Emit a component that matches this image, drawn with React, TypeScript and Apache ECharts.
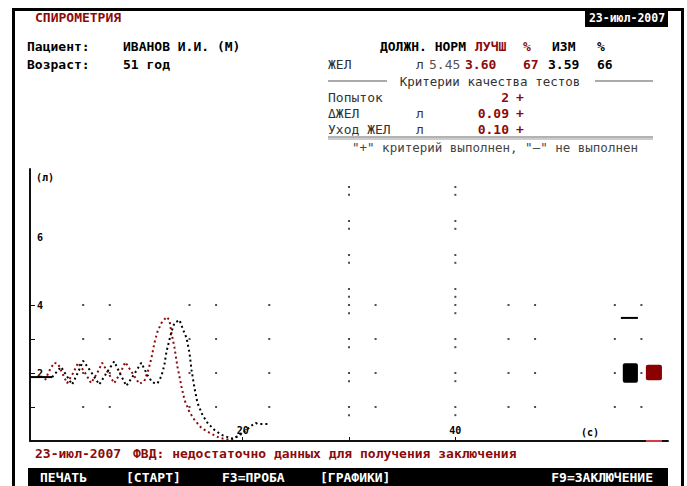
import { useEffect, useRef } from "react";
import * as echarts from "echarts";

// ---- data (seconds, litres) ----
const blackStart: [number, number][] = [[0, 1.88], [2.1, 1.88]];
const blackCurve: [number, number][] = [
  [2.08, 1.88], [2.55, 2.05], [2.92, 2.18], [3.4, 1.94], [3.96, 1.66], [4.53, 2.03], [5.0, 2.36],
  [5.75, 2.03], [6.51, 1.66], [7.26, 2.03], [7.92, 2.34], [8.49, 1.97], [9.06, 1.62], [9.81, 1.97],
  [10.47, 2.3], [11.04, 1.94], [11.51, 1.72], [11.98, 1.69], [12.36, 1.91], [12.64, 2.24],
  [12.83, 2.62], [13.11, 2.97], [13.3, 3.21], [13.58, 3.47], [14.06, 3.56], [14.34, 3.32],
  [14.72, 3.03], [15.0, 2.59], [15.19, 2.09], [15.47, 1.56], [15.75, 1.12], [16.23, 0.76],
  [16.7, 0.53], [17.36, 0.32], [18.02, 0.18], [18.77, 0.09], [19.15, 0.06], [19.53, 0.15],
  [20.0, 0.26], [20.38, 0.32], [20.75, 0.44], [21.23, 0.53], [21.42, 0.5], [22.36, 0.5],
];
const redCurve: [number, number][] = [
  [1.42, 1.79], [1.79, 2.05], [2.26, 2.3], [2.64, 2.27], [3.02, 2.0], [3.49, 1.7], [4.06, 2.0],
  [4.53, 2.3], [5.19, 2.0], [5.75, 1.7], [6.32, 2.0], [6.79, 2.3], [7.36, 2.0], [7.92, 1.7],
  [8.49, 2.0], [8.96, 2.32], [9.62, 2.0], [10.28, 1.68], [10.75, 1.76], [11.13, 2.09],
  [11.42, 2.44], [11.7, 2.88], [11.98, 3.21], [12.36, 3.47], [12.83, 3.65], [13.11, 3.56],
  [13.3, 3.18], [13.58, 2.76], [13.87, 2.18], [14.25, 1.59], [14.53, 1.21], [15.0, 0.85],
  [15.47, 0.62], [16.13, 0.38], [16.89, 0.24], [17.83, 0.09], [18.77, 0.03], [19.43, 0.12],
  [19.91, 0.21],
];
const yTickValues = [1, 2, 3, 4];
const yLabelValues = [2, 4, 6];
const xTickValues = [20, 30, 40];
const xLabelValues = [20, 40];
const dotColumns = [5, 7.5, 15, 17.5, 22.5, 30, 32.5, 40, 45, 47.5, 55, 57.5];
const dotRows = [1, 2, 3, 4];
const vDotColumns = [30, 40];
const vDotLevels = [7.47, 7.24, 6.47, 6.24, 5.47, 5.24, 4.47, 4.24, 3.76, 2.76, 1.76, 0.76];
// [x0, x1, yLow, yHigh]
const blackBox = [55.75, 57.17, 1.71, 2.29];
const redBox = [57.92, 59.43, 1.79, 2.24];
const blackMark: [number, number][] = [[55.57, 3.62], [57.17, 3.62]];
const redMark: [number, number][] = [[57.92, 0], [59.43, 0]];

const RED = "#8c0a0a";
const MONO = '"DejaVu Sans Mono", "Liberation Mono", monospace';

const gridDots: [number, number][] = [];
dotRows.forEach((r) => dotColumns.forEach((c) => gridDots.push([c, r])));
vDotColumns.forEach((c) => vDotLevels.forEach((l) => gridDots.push([c, l])));

function txt(text: string, x: number, y: number, o: any = {}) {
  return {
    type: "text",
    x,
    y,
    z: 10,
    silent: true,
    style: {
      text,
      fill: o.fill || "#000",
      font: `${o.weight || "bold"} ${o.size || 13}px ${MONO}`,
      align: o.align || "left",
      verticalAlign: "middle",
    },
  };
}
function hline(x1: number, x2: number, y: number, stroke = "#555", w = 1) {
  return { type: "line", z: 10, silent: true, shape: { x1, y1: y, x2, y2: y }, style: { stroke, lineWidth: w } };
}
function box(x: number, y: number, width: number, height: number, fill = "#000") {
  return { type: "rect", z: 9, silent: true, shape: { x, y, width, height }, style: { fill } };
}

function rectSeries(d: number[], color: string) {
  return {
    type: "custom",
    silent: true,
    z: 5,
    renderItem: (_p: any, api: any) => {
      const a = api.coord([api.value(0), api.value(3)]);
      const b = api.coord([api.value(1), api.value(2)]);
      return {
        type: "rect",
        shape: { x: a[0], y: a[1], width: b[0] - a[0], height: b[1] - a[1], r: 2 },
        style: { fill: color },
      };
    },
    data: [d],
  };
}

export default function App() {
  const ref = useRef<HTMLDivElement>(null);
  useEffect(() => {
    if (!ref.current) return;
    const chart = echarts.init(ref.current, null, { renderer: "svg" });
    chart.setOption({
      animation: false,
      backgroundColor: "#fff",
      grid: { left: 30, right: 19, top: 169, bottom: 45 },
      xAxis: {
        type: "value",
        min: 0,
        max: 60,
        axisLine: { show: true, lineStyle: { color: "#111", width: 2 } },
        axisTick: { show: true, inside: true, length: 4, customValues: xTickValues, lineStyle: { color: "#111" } },
        axisLabel: {
          inside: true,
          margin: 6,
          customValues: xLabelValues,
          color: "#000",
          fontSize: 10,
          fontWeight: "bold",
          fontFamily: MONO,
        },
        splitLine: { show: false },
      },
      yAxis: {
        type: "value",
        min: 0,
        max: 8,
        axisLine: { show: true, lineStyle: { color: "#111", width: 2 } },
        axisTick: { show: true, inside: true, length: 5, customValues: yTickValues, lineStyle: { color: "#111" } },
        axisLabel: {
          inside: true,
          margin: 7,
          customValues: yLabelValues,
          color: "#000",
          fontSize: 10,
          fontWeight: "bold",
          fontFamily: MONO,
        },
        splitLine: { show: false },
      },
      series: [
        {
          type: "scatter",
          silent: true,
          symbol: "rect",
          symbolSize: 2,
          itemStyle: { color: "#222" },
          data: gridDots,
          z: 1,
        },
        {
          type: "line",
          silent: true,
          showSymbol: false,
          data: blackStart,
          lineStyle: { color: "#000", width: 2 },
          z: 3,
        },
        {
          type: "line",
          silent: true,
          showSymbol: false,
          data: redCurve,
          lineStyle: { color: RED, width: 2, type: [2, 3] },
          z: 3,
        },
        {
          type: "line",
          silent: true,
          showSymbol: false,
          data: blackCurve,
          lineStyle: { color: "#000", width: 2, type: [2, 3] },
          z: 4,
        },
        rectSeries(blackBox, "#000"),
        rectSeries(redBox, "#8b0000"),
        {
          type: "line",
          silent: true,
          showSymbol: false,
          data: blackMark,
          lineStyle: { color: "#000", width: 2 },
          z: 5,
        },
        {
          type: "line",
          silent: true,
          showSymbol: false,
          data: redMark,
          lineStyle: { color: "#d04040", width: 2 },
          z: 6,
        },
      ],
      graphic: [
        // frame
        box(12, 8, 672, 3),
        box(12, 8, 3, 478),
        box(681, 8, 3, 478),
        // title and date
        txt("СПИРОМЕТРИЯ", 35, 17, { fill: RED }),
        box(585, 10, 83, 17),
        txt("23-июл-2007", 627, 18, { fill: "#fff", size: 11.5, align: "center" }),
        // patient
        txt("Пациент:", 27, 46),
        txt("ИВАНОВ И.И. (М)", 123, 46),
        txt("Возраст:", 27, 64),
        txt("51 год", 123, 64),
        // results table
        txt("ДОЛЖН. НОРМ", 466, 46, { align: "right" }),
        txt("ЛУЧШ", 475, 46, { fill: RED }),
        txt("%", 523, 46, { fill: RED }),
        txt("ИЗМ", 552, 46),
        txt("%", 597, 46),
        txt("ЖЕЛ", 328, 64, { weight: "normal", fill: "#333" }),
        txt("л", 416, 64, { weight: "normal", fill: "#333" }),
        txt("5.45", 429, 64, { weight: "normal", fill: "#555" }),
        txt("3.60", 465, 64, { fill: RED }),
        txt("67", 523, 64, { fill: RED }),
        txt("3.59", 548, 64),
        txt("66", 597, 64),
        hline(328, 387, 81),
        txt("Критерии качества тестов", 490, 81, { weight: "normal", fill: "#333", size: 12.5, align: "center" }),
        hline(595, 653, 81),
        txt("Попыток", 328, 97, { weight: "normal", fill: "#333" }),
        txt("2", 509, 97, { fill: RED, align: "right" }),
        txt("+", 516, 97, { fill: RED }),
        txt("ΔЖЕЛ", 328, 113, { weight: "normal", fill: "#333" }),
        txt("л", 416, 113, { weight: "normal", fill: "#333" }),
        txt("0.09", 509, 113, { fill: RED, align: "right" }),
        txt("+", 516, 113, { fill: RED }),
        txt("Уход ЖЕЛ", 328, 129, { weight: "normal", fill: "#333" }),
        txt("л", 416, 129, { weight: "normal", fill: "#333" }),
        txt("0.10", 509, 129, { fill: RED, align: "right" }),
        txt("+", 516, 129, { fill: RED }),
        hline(328, 653, 137, "#666", 1),
        hline(328, 653, 139, "#999", 1),
        txt('"+" критерий выполнен, "–" не выполнен', 495, 147, {
          weight: "normal",
          fill: "#444",
          size: 12.5,
          align: "center",
        }),
        // axis units
        txt("(л)", 36, 177, { size: 10 }),
        txt("(с)", 590, 432, { size: 10, align: "center" }),
        // conclusion
        txt("23-июл-2007", 35, 453, { fill: RED }),
        txt("ФВД: недостаточно данных для получения заключения", 133, 453, { fill: RED }),
        // bottom key bar
        box(28, 468, 640, 18),
        txt("ПЕЧАТЬ", 40, 477, { fill: "#fff" }),
        txt("[СТАРТ]", 126, 477, { fill: "#fff" }),
        txt("F3=ПРОБА", 222, 477, { fill: "#fff" }),
        txt("[ГРАФИКИ]", 320, 477, { fill: "#fff" }),
        txt("F9=ЗАКЛЮЧЕНИЕ", 653, 477, { fill: "#fff", align: "right" }),
      ],
    });
    return () => chart.dispose();
  }, []);
  return (
    <div
      ref={ref}
      style={{ position: "absolute", left: 0, top: 0, width: 687, height: 486 }}
    />
  );
}
